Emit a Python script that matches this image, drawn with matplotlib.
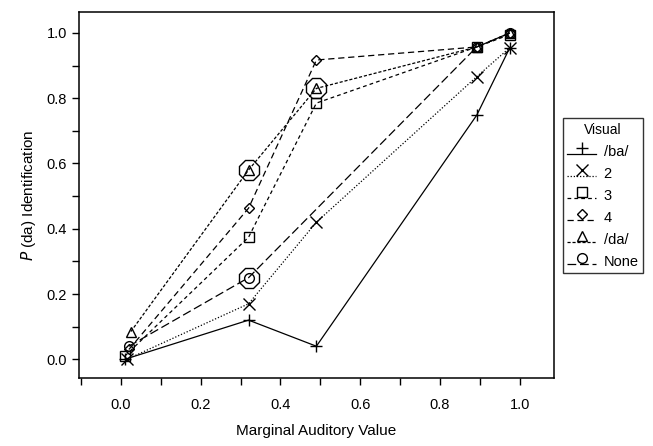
import matplotlib.pyplot as plt
from matplotlib.ticker import MultipleLocator
from matplotlib.legend_handler import HandlerLine2DCompound

plt.rcParams['font.family'] = ['Liberation Sans', 'DejaVu Sans']

# identification data for each visual level
x_ba = [0.01, 0.32, 0.49, 0.892, 0.975]
y_ba = [0.0, 0.12, 0.04, 0.748, 0.955]
x_two = [0.015, 0.32, 0.49, 0.892, 0.975]
y_two = [0.0, 0.17, 0.42, 0.866, 0.955]
x_three = [0.01, 0.32, 0.49, 0.892, 0.975]
y_three = [0.01, 0.374, 0.785, 0.957, 0.995]
x_four = [0.02, 0.32, 0.49, 0.892, 0.975]
y_four = [0.03, 0.463, 0.917, 0.957, 1.0]
x_da = [0.025, 0.32, 0.49, 0.892, 0.975]
y_da = [0.085, 0.58, 0.83, 0.957, 1.0]
x_none = [0.02, 0.32, 0.892, 0.975]
y_none = [0.04, 0.25, 0.957, 1.0]

# circled points
ring_x = [0.32, 0.32, 0.49]
ring_y = [0.25, 0.58, 0.83]

labels = ['/ba/', '2', '3', '4', '/da/', 'None']
markers = ['+', 'x', 's', 'D', '^', 'o']
sizes = [9, 8, 7, 5, 7, 7]
styles = ['-', (0, (1, 1.5)), (0, (3, 2.5)), (0, (5, 3)), (0, (2.5, 1.5)), (0, (7, 3))]


class MarkerAboveLine(HandlerLine2DCompound):
    # legend entry with the symbol sitting on top of the line sample
    def create_artists(self, legend, orig_handle, xdescent, ydescent,
                       width, height, fontsize, trans):
        line, mark = super().create_artists(legend, orig_handle, xdescent,
                                            ydescent, width, height,
                                            fontsize, trans)
        line.set_ydata([y - 0.3 * height for y in line.get_ydata()])
        mark.set_ydata([y + 0.25 * height for y in mark.get_ydata()])
        return [line, mark]


fig = plt.figure(figsize=(6.53, 4.46), dpi=100)
ax = fig.add_axes([0.121, 0.152, 0.727, 0.821])

series = [(x_ba, y_ba), (x_two, y_two), (x_three, y_three),
          (x_four, y_four), (x_da, y_da), (x_none, y_none)]
handles = []
for (xs, ys), lab, m, ms, ls in zip(series, labels, markers, sizes, styles):
    h, = ax.plot(xs, ys, color='black', linestyle=ls, linewidth=0.9,
                 marker=m, markersize=ms, markerfacecolor='none',
                 markeredgecolor='black', markeredgewidth=1.0, label=lab)
    handles.append(h)

ax.plot(ring_x, ring_y, linestyle='none', marker='8', markersize=15,
        markerfacecolor='none', markeredgecolor='black', markeredgewidth=1.0)

ax.set_xlim(-0.105, 1.085)
ax.set_ylim(-0.058, 1.064)
ax.xaxis.set_major_locator(MultipleLocator(0.2))
ax.xaxis.set_minor_locator(MultipleLocator(0.1))
ax.yaxis.set_major_locator(MultipleLocator(0.2))
ax.yaxis.set_minor_locator(MultipleLocator(0.1))
ax.xaxis.set_major_formatter(plt.FormatStrFormatter('%.1f'))
ax.yaxis.set_major_formatter(plt.FormatStrFormatter('%.1f'))
ax.tick_params(which='both', direction='out', length=5, width=1, labelsize=10.5)
ax.tick_params(axis='x', pad=9)
for sp in ax.spines.values():
    sp.set_linewidth(1.1)

ax.set_xlabel('Marginal Auditory Value', fontsize=11, labelpad=9)
ax.set_ylabel('$\\mathit{P}$ (da) Identification', fontsize=11, labelpad=6)

leg = ax.legend(handles=handles, title='Visual', loc='upper left',
                bbox_to_anchor=(1.019, 0.71),
                handler_map={h: MarkerAboveLine() for h in handles},
                frameon=True, fancybox=False, edgecolor='black', fontsize=10.5,
                title_fontsize=10, handlelength=2.0, handletextpad=0.5,
                borderpad=0.3, labelspacing=0.55, borderaxespad=0)
leg.get_frame().set_linewidth(1.0)

fig.savefig('out.png', dpi=100)
